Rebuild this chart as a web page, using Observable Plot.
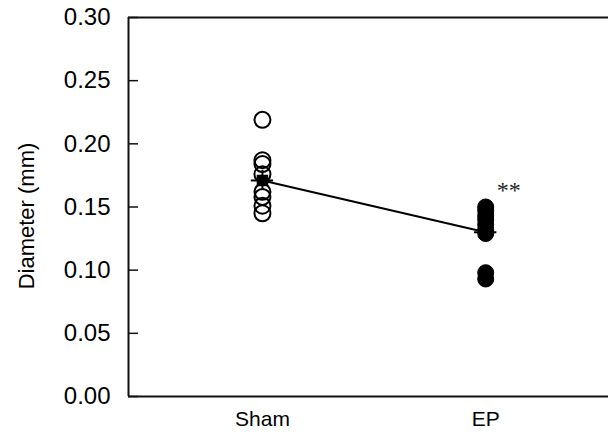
<!DOCTYPE html>
<html>
<head>
<meta charset="utf-8">
<script src="https://cdn.jsdelivr.net/npm/d3@7"></script>
<script src="https://cdn.jsdelivr.net/npm/@observablehq/plot@0.6"></script>
<style>
  html, body { margin: 0; padding: 0; background: #fff; overflow: hidden; }
  #chart svg { display: block; }
</style>
</head>
<body>
<div id="chart"></div>
<script>
const categories = ["Sham", "EP"];
const shamValues = [0.219, 0.187, 0.184, 0.176, 0.162, 0.158, 0.151, 0.145];
const epValues = [0.150, 0.147, 0.143, 0.140, 0.136, 0.132, 0.129, 0.098, 0.093];
const groupMeans = [0.171, 0.130];
const groupSem = [0.008, 0.006];
const yTicks = [0, 0.05, 0.10, 0.15, 0.20, 0.25, 0.30];
const yLabel = "Diameter (mm)";
const significance = "**";

const W = 608, H = 434, mL = 128, mR = 0, mT = 17, mB = 38;

const points = [
  ...shamValues.map(v => ({g: 1, v})),
  ...epValues.map(v => ({g: 2, v}))
];
const means = categories.map((c, i) => ({g: i + 1, m: groupMeans[i], s: groupSem[i]}));

const font = "'Liberation Sans', Arial, Helvetica, sans-serif";

const chart = Plot.plot({
  width: W, height: H,
  marginLeft: mL, marginRight: mR, marginTop: mT, marginBottom: mB,
  style: {fontFamily: font, fontSize: "21px", color: "#000", background: "#fff"},
  x: {type: "linear", domain: [0.4, 2.55]},
  y: {domain: [0, 0.30]},
  marks: [
    Plot.ruleY([0, 0.30], {stroke: "#111", strokeWidth: 2}),
    Plot.ruleX([0.4], {y1: 0, y2: 0.30, stroke: "#111", strokeWidth: 2}),
    Plot.tickY(yTicks, {y: d => d, stroke: "#111", strokeWidth: 1.5, insetRight: W - mL - mR - 10}),
    Plot.axisY({ticks: yTicks, tickSize: 0, tickPadding: 18, tickFormat: d => d.toFixed(2),
      fontSize: 24, label: null}),
    Plot.text([yLabel], {frameAnchor: "left", text: d => d, rotate: -90, dx: -102, dy: 9,
      fontSize: 22, textAnchor: "middle", lineAnchor: "middle", fill: "#000"}),
    Plot.axisX({ticks: [1, 2], tickSize: 0, tickPadding: 15, tickFormat: d => categories[d - 1],
      fontSize: 21, label: null}),
    // connecting line between group means
    Plot.line(means, {x: "g", y: "m", stroke: "#000", strokeWidth: 2}),
    // sham: open circles
    Plot.dot(points.filter(d => d.g === 1), {x: "g", y: "v", r: 8, stroke: "#000", strokeWidth: 2, fill: "none"}),
    // EP: filled circles
    Plot.dot(points.filter(d => d.g === 2), {x: "g", y: "v", r: 8, fill: "#000", stroke: "#000", strokeWidth: 1}),
    // SEM bars
    Plot.ruleX(means, {x: "g", y1: d => d.m - d.s, y2: d => d.m + d.s, stroke: "#000", strokeWidth: 2}),
    // mean marker
    Plot.dot(means, {x: "g", y: "m", symbol: "square", r: 6.5, fill: "#000", stroke: "none"}),
    Plot.ruleY(means, {y: "m", x1: d => d.g - 0.05, x2: d => d.g + 0.05, stroke: "#000", strokeWidth: 2}),
    Plot.text([{g: 2, m: groupMeans[1]}], {x: "g", y: () => 0.150, text: () => significance, dx: 23, dy: -17,
      fontSize: 24, fontFamily: "'Liberation Serif', 'Times New Roman', serif", fill: "#222"})
  ]
});

document.getElementById("chart").appendChild(chart);
</script>
</body>
</html>
